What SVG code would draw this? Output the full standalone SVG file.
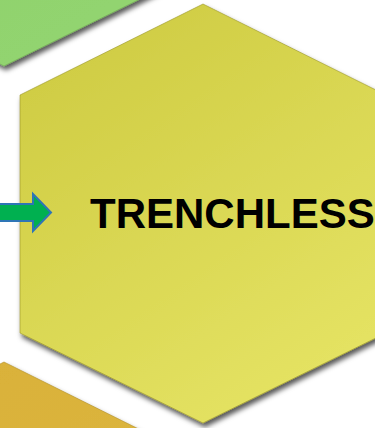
<svg xmlns="http://www.w3.org/2000/svg" width="375" height="428" viewBox="0 0 375 428">
  <defs>
    <filter id="shadow" x="-20%" y="-20%" width="140%" height="140%">
      <feDropShadow dx="2" dy="4" stdDeviation="2.5" flood-color="#000" flood-opacity="0.65"/>
    </filter>
    <linearGradient id="yellowGrad" x1="0" y1="0" x2="0.6" y2="1">
      <stop offset="0" stop-color="#CCC93F"/>
      <stop offset="1" stop-color="#E4E262"/>
    </linearGradient>
    <linearGradient id="greenGrad" x1="0" y1="0" x2="0.5" y2="1">
      <stop offset="0" stop-color="#86CC65"/>
      <stop offset="1" stop-color="#92D46F"/>
    </linearGradient>
    <linearGradient id="goldGrad" x1="0" y1="0" x2="0.5" y2="1">
      <stop offset="0" stop-color="#D9B038"/>
      <stop offset="1" stop-color="#DDB840"/>
    </linearGradient>
    <style>
      .hex { filter: url(#shadow); stroke-width: 0.6; }
      .label { font-family: "Liberation Sans", Arial, sans-serif; font-weight: bold; font-size: 42px; fill: #000; }
      .arrow { fill: #00B050; stroke: #2E75B6; stroke-width: 2; stroke-linejoin: miter; }
    </style>
  </defs>

  <g id="hex-green">
    <polygon class="hex" fill="url(#greenGrad)" stroke="#6FA850" points="4,-353 187,-262 187,-24 4,66 -179,-24 -179,-262"/>
  </g>

  <g id="hex-gold">
    <polygon class="hex" fill="url(#goldGrad)" stroke="#B08E2A" points="4,362 187,453 187,691 4,781 -179,691 -179,453"/>
  </g>

  <g id="hex-main">
    <polygon class="hex" fill="url(#yellowGrad)" stroke="#9A9528" points="203,4 386,95 386,333 203,423 20,333 20,95"/>
    <text class="label" x="90" y="228">TRENCHLESS</text>
  </g>

  <g id="connectors">
    <polygon class="arrow" points="-5,204 33,204 33,194 51,212.5 33,231 33,221 -5,221"/>
  </g>
</svg>
